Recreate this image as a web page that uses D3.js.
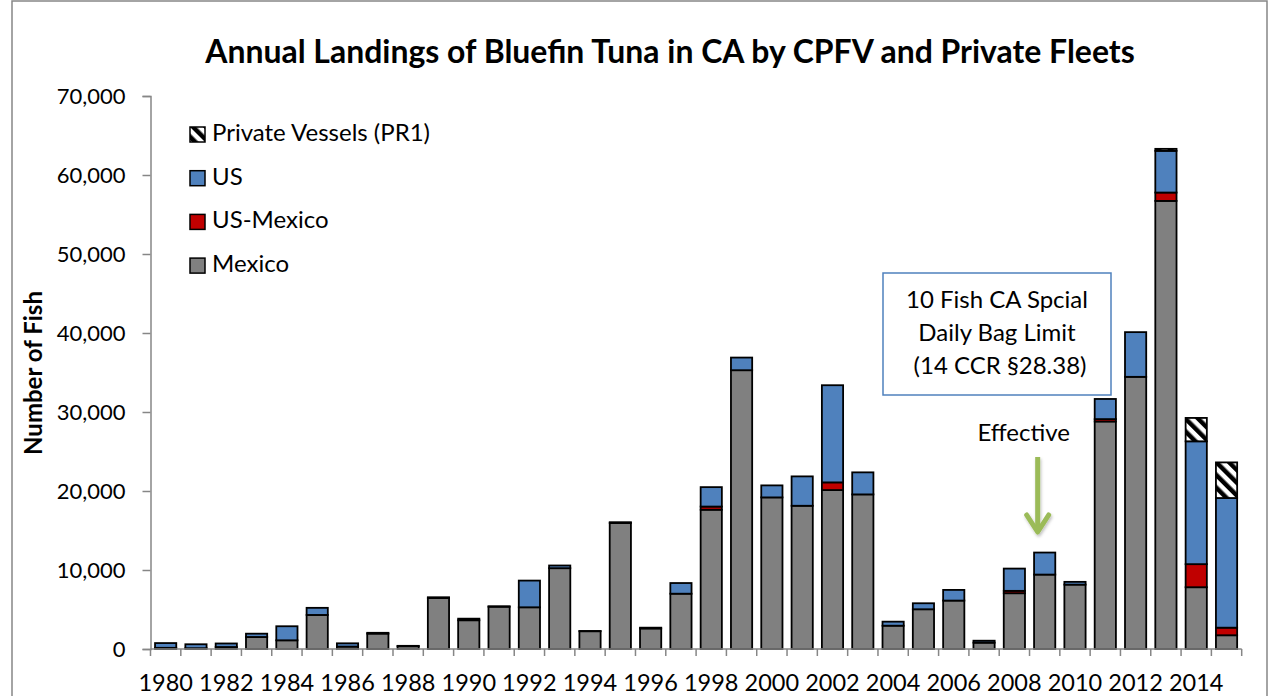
<!DOCTYPE html>
<html>
<head>
<meta charset="utf-8">
<script src="https://cdn.jsdelivr.net/npm/d3@7"></script>
<style>
  body { margin: 0; background: #fff; }
  svg { display: block; }
</style>
</head>
<body>
<svg id="chart"></svg>
<script>
// landings by fleet (number of fish)
const years = [1980, 1981, 1982, 1983, 1984, 1985, 1986, 1987, 1988, 1989,
  1990, 1991, 1992, 1993, 1994, 1995, 1996, 1997, 1998, 1999,
  2000, 2001, 2002, 2003, 2004, 2005, 2006, 2007, 2008, 2009,
  2010, 2011, 2012, 2013, 2014, 2015];
const mexico = [150, 100, 250, 1520, 1100, 4310, 300, 1950, 350, 6450,
  3640, 5350, 5280, 10230, 2250, 15950, 2600, 7000, 17630, 35290,
  19190, 18130, 20120, 19570, 2950, 5030, 6130, 800, 7060, 9420,
  8150, 28800, 34450, 56720, 7820, 1740];
const usMexico = [0, 0, 0, 0, 0, 0, 0, 0, 0, 0,
  0, 0, 0, 0, 0, 0, 0, 0, 400, 0,
  0, 0, 970, 0, 0, 0, 0, 0, 300, 0,
  0, 300, 0, 1060, 2920, 960];
const us = [600, 500, 450, 420, 1780, 900, 420, 100, 50, 100,
  200, 60, 3380, 340, 30, 100, 100, 1350, 2460, 1600,
  1520, 3720, 12300, 2790, 510, 760, 1350, 250, 2820, 2790,
  350, 2550, 5660, 5280, 15550, 16410];
const privateVessels = [0, 0, 0, 0, 0, 0, 0, 0, 0, 0,
  0, 0, 0, 0, 0, 0, 0, 0, 0, 0,
  0, 0, 0, 0, 0, 0, 0, 0, 0, 0,
  0, 0, 0, 250, 2960, 4510];

const yTicks = [0, 10000, 20000, 30000, 40000, 50000, 60000, 70000];
const labelYears = [1980, 1982, 1984, 1986, 1988, 1990, 1992, 1994, 1996, 1998,
  2000, 2002, 2004, 2006, 2008, 2010, 2012, 2014];

const series = [
  { key: "mexico", name: "Mexico", fill: "#808080" },
  { key: "usMexico", name: "US-Mexico", fill: "#c00000" },
  { key: "us", name: "US", fill: "#4f81bd" },
  { key: "private", name: "Private Vessels (PR1)", fill: "url(#hatch)" }
];

const noteLines = ["10 Fish CA Spcial", "Daily Bag Limit", "\u00a0(14 CCR \u00a728.38)"];

const rows = years.map((yr, i) => ({
  year: yr,
  mexico: mexico[i],
  usMexico: usMexico[i],
  us: us[i],
  private: privateVessels[i]
}));

const width = 1280, height = 696;
const font = "Lato, 'Open Sans', sans-serif";
const axisColor = "#868686";

const svg = d3.select("#chart")
  .attr("width", width)
  .attr("height", height)
  .style("font-family", font);

const defs = svg.append("defs");
const hatch = defs.append("pattern")
  .attr("id", "hatch")
  .attr("patternUnits", "userSpaceOnUse")
  .attr("width", 9)
  .attr("height", 9)
  .attr("patternTransform", "rotate(-45)");
hatch.append("rect").attr("width", 9).attr("height", 9).attr("fill", "#fff");
hatch.append("rect").attr("width", 4.5).attr("height", 9).attr("fill", "#000");

const shadow = defs.append("filter").attr("id", "shadow")
  .attr("x", "-50%").attr("y", "-20%").attr("width", "200%").attr("height", "140%");
shadow.append("feDropShadow")
  .attr("dx", 1).attr("dy", 2).attr("stdDeviation", 1.5)
  .attr("flood-color", "#000").attr("flood-opacity", 0.25);

// chart area border
svg.append("rect")
  .attr("x", 12).attr("y", 1)
  .attr("width", 1255).attr("height", 710)
  .attr("fill", "none")
  .attr("stroke", axisColor)
  .attr("stroke-width", 1.5);

const x = d3.scaleBand()
  .domain(years)
  .range([150.5, 1241.7])
  .paddingInner(0.3)
  .paddingOuter(0.15);

const y = d3.scaleLinear()
  .domain([0, 70000])
  .range([649, 96]);

// title, squeezed to the reference width
const title = svg.append("text")
  .attr("x", 670)
  .attr("y", 63)
  .attr("text-anchor", "middle")
  .attr("font-weight", "bold")
  .attr("font-size", 28)
  .text("Annual Landings of Bluefin Tuna in CA by CPFV and Private Fleets");
const tw = title.node().getComputedTextLength();
title.attr("font-size", 28 * 930 / tw);

// y axis
const yAxis = svg.append("g")
  .attr("transform", "translate(150.5,0)")
  .call(d3.axisLeft(y)
    .tickValues(yTicks)
    .tickFormat(d3.format(","))
    .tickSize(8)
    .tickPadding(17));
yAxis.select(".domain").attr("stroke", axisColor).attr("stroke-width", 1.5);
yAxis.selectAll(".tick line").attr("stroke", axisColor).attr("stroke-width", 1.5);
yAxis.selectAll(".tick text")
  .attr("font-family", font)
  .attr("font-size", 22)
  .attr("fill", "#000");

svg.append("text")
  .attr("transform", "translate(42,373) rotate(-90)")
  .attr("text-anchor", "middle")
  .attr("font-weight", "bold")
  .attr("font-size", 24)
  .text("Number of Fish");

// stacked bars
const stack = d3.stack().keys(series.map(s => s.key));
const layers = stack(rows);

svg.append("g")
  .selectAll("g")
  .data(layers)
  .join("g")
  .attr("fill", (d, i) => series[i].fill)
  .selectAll("rect")
  .data(d => d.filter(p => p[1] - p[0] > 0))
  .join("rect")
  .attr("x", d => x(d.data.year))
  .attr("width", x.bandwidth())
  .attr("y", d => y(d[1]))
  .attr("height", d => y(d[0]) - y(d[1]))
  .attr("stroke", "#000")
  .attr("stroke-width", 1.8);

// x axis: baseline, boundary ticks, every other year labelled
const step = x.step();
const edges = years.map(yr => x(yr) - step * x.paddingInner() / 2);
edges.push(x(years[years.length - 1]) + x.bandwidth() + step * x.paddingInner() / 2);

const xAxis = svg.append("g");
xAxis.append("line")
  .attr("x1", 150.5).attr("x2", 1241.7)
  .attr("y1", y(0)).attr("y2", y(0))
  .attr("stroke", axisColor)
  .attr("stroke-width", 1.5);
xAxis.selectAll("line.tick")
  .data(edges)
  .join("line")
  .attr("class", "tick")
  .attr("x1", d => d).attr("x2", d => d)
  .attr("y1", y(0)).attr("y2", y(0) + 7)
  .attr("stroke", axisColor)
  .attr("stroke-width", 1.5);
xAxis.selectAll("text")
  .data(labelYears)
  .join("text")
  .attr("x", d => x(d) + x.bandwidth() / 2)
  .attr("y", 691)
  .attr("text-anchor", "middle")
  .attr("font-size", 23.5)
  .text(d => d);

// legend, top series first
const legend = svg.append("g")
  .selectAll("g")
  .data(series.slice().reverse())
  .join("g")
  .attr("transform", (d, i) => `translate(190,${127 + i * 43.7})`);
legend.append("rect")
  .attr("width", 15).attr("height", 15)
  .attr("fill", d => d.fill)
  .attr("stroke", "#000")
  .attr("stroke-width", 1.5);
legend.append("text")
  .attr("x", 22)
  .attr("y", 14)
  .attr("font-size", 24)
  .text(d => d.name);

// regulation note
const note = svg.append("g");
note.append("rect")
  .attr("x", 883).attr("y", 273)
  .attr("width", 228).attr("height", 122)
  .attr("fill", "#fff")
  .attr("stroke", "#4f81bd")
  .attr("stroke-width", 1.5);
note.selectAll("text")
  .data(noteLines)
  .join("text")
  .attr("x", 997)
  .attr("y", (d, i) => 308 + i * 33)
  .attr("text-anchor", "middle")
  .attr("font-size", 24)
  .text(d => d);

const ax = x(2009) + x.bandwidth() / 2 - 7;
svg.append("text")
  .attr("x", ax - 14)
  .attr("y", 441)
  .attr("text-anchor", "middle")
  .attr("font-size", 24)
  .text("Effective");

const arrow = svg.append("g")
  .attr("filter", "url(#shadow)")
  .attr("stroke", "#9bbb59")
  .attr("stroke-width", 5)
  .attr("fill", "none");
arrow.append("line")
  .attr("x1", ax).attr("x2", ax)
  .attr("y1", 457).attr("y2", 532);
arrow.append("path")
  .attr("d", `M${ax - 11},515 L${ax},532 L${ax + 11},515`)
  .attr("stroke-linecap", "round")
  .attr("stroke-linejoin", "round");
</script>
</body>
</html>
